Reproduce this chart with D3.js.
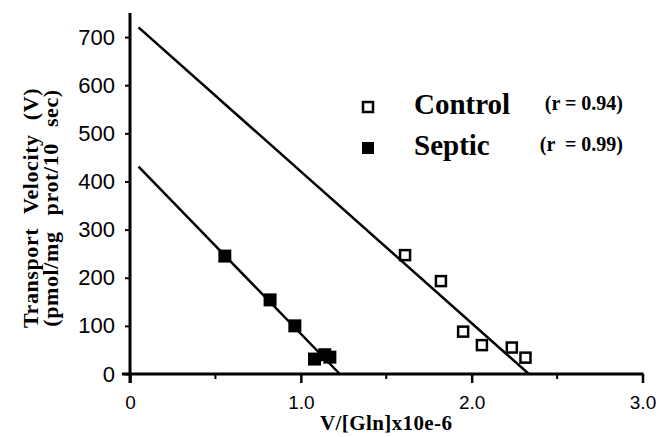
<!DOCTYPE html>
<html>
<head>
<meta charset="utf-8">
<script src="https://cdn.jsdelivr.net/npm/d3@7"></script>
<style>
  body { margin: 0; background: #fff; }
  svg { display: block; }
</style>
</head>
<body>
<div id="chart"></div>
<script>
// Eadie-Hofstee style plot: control vs septic glutamine transport

// tick labels
const xTicks = [0, 1, 2, 3];
const xTickLabels = ['0', '1.0', '2.0', '3.0'];
const xMinorTicks = [0.5, 1.5, 2.5];
const yTicks = [0, 100, 200, 300, 400, 500, 600, 700];

// Control (open squares): V/[Gln] x10e-6, V
const controlX = [1.61, 1.82, 1.95, 2.06, 2.235, 2.315];
const controlY = [247, 193, 88, 60, 55, 34];

// Septic (filled squares)
const septicX = [0.555, 0.82, 0.965, 1.08, 1.14, 1.17];
const septicY = [245, 154, 100, 31, 40, 35];

// regression lines, drawn from start to x-intercept
const controlFitX = [0.05, 2.335];
const controlFitY = [720, 0];
const septicFitX = [0.05, 1.228];
const septicFitY = [431, 0];

const seriesNames = ['Control', 'Septic'];
const seriesR = ['(r = 0.94)', '(r  = 0.99)'];

const W = 663, H = 437;
const svg = d3.select('#chart').append('svg')
    .attr('width', W)
    .attr('height', H);

const x = d3.scaleLinear().domain([0, 3]).range([130, 642.5]);
const y = d3.scaleLinear().domain([0, 750]).range([374, 13]);

const serif = '"Liberation Serif", "Times New Roman", serif';
const sans = '"Liberation Sans", Arial, sans-serif';

// y axis
const yAxis = svg.append('g')
    .attr('transform', `translate(${x(0)},0)`)
    .call(d3.axisLeft(y).tickValues(yTicks).tickSize(5).tickSizeOuter(0).tickPadding(10));
yAxis.select('.domain').remove();
yAxis.selectAll('line').attr('stroke', '#000').attr('stroke-width', 2);
yAxis.selectAll('text')
    .attr('font-family', sans)
    .attr('font-size', '22px')
    .attr('fill', '#000');

svg.append('line')
    .attr('x1', x(0)).attr('x2', x(0))
    .attr('y1', y(750)).attr('y2', y(0) + 9)
    .attr('stroke', '#000').attr('stroke-width', 3);

// x axis
const xAxis = svg.append('g')
    .attr('transform', `translate(0,${y(0)})`)
    .call(d3.axisBottom(x).tickValues(xTicks).tickSize(9).tickSizeOuter(0).tickPadding(13)
        .tickFormat((d, i) => xTickLabels[i]));
xAxis.select('.domain').remove();
xAxis.selectAll('line').attr('stroke', '#000').attr('stroke-width', 2.5);
xAxis.selectAll('text')
    .attr('font-family', sans)
    .attr('font-size', '19px')
    .attr('fill', '#000');

svg.append('g')
    .attr('transform', `translate(0,${y(0)})`)
    .selectAll('line')
    .data(xMinorTicks)
    .enter()
    .append('line')
    .attr('x1', d => x(d)).attr('x2', d => x(d))
    .attr('y1', 0).attr('y2', 5)
    .attr('stroke', '#000').attr('stroke-width', 2);

svg.append('line')
    .attr('x1', x(0) - 8).attr('x2', x(3) + 1)
    .attr('y1', y(0)).attr('y2', y(0))
    .attr('stroke', '#000').attr('stroke-width', 3);

// axis titles
const yTitle = svg.append('text')
    .attr('transform', `translate(38,${y(0) - 166}) rotate(-90)`)
    .attr('text-anchor', 'middle')
    .attr('font-family', serif)
    .attr('font-weight', 'bold')
    .attr('font-size', '22px')
    .attr('letter-spacing', '0.6px')
    .attr('fill', '#000');
yTitle.append('tspan').attr('x', 0).attr('y', 0)
    .attr('word-spacing', '8px')
    .text('Transport Velocity (V)');
yTitle.append('tspan').attr('x', 0).attr('y', 20)
    .attr('word-spacing', '10px')
    .text('(pmol/mg prot/10 sec)');

svg.append('text')
    .attr('x', 320)
    .attr('y', 430)
    .attr('font-family', serif)
    .attr('font-weight', 'bold')
    .attr('font-size', '21px')
    .attr('letter-spacing', '0.4px')
    .attr('fill', '#000')
    .text('V/[Gln]x10e-6');

// fit lines
const line = d3.line().x(d => x(d[0])).y(d => y(d[1]));
[[controlFitX, controlFitY], [septicFitX, septicFitY]].forEach(([fx, fy]) => {
    svg.append('path')
        .datum(d3.zip(fx, fy))
        .attr('d', line)
        .attr('fill', 'none')
        .attr('stroke', '#000')
        .attr('stroke-width', 2.5);
});

// points
svg.append('g').selectAll('rect')
    .data(d3.zip(controlX, controlY))
    .enter()
    .append('rect')
    .attr('x', d => x(d[0]) - 5)
    .attr('y', d => y(d[1]) - 5)
    .attr('width', 10).attr('height', 10)
    .attr('fill', '#fff')
    .attr('stroke', '#000')
    .attr('stroke-width', 2.5);

svg.append('g').selectAll('rect')
    .data(d3.zip(septicX, septicY))
    .enter()
    .append('rect')
    .attr('x', d => x(d[0]) - 6.5)
    .attr('y', d => y(d[1]) - 6.5)
    .attr('width', 13).attr('height', 13)
    .attr('fill', '#000');

// legend
const legendY = [107, 148];
const legend = svg.append('g');
legend.append('rect')
    .attr('x', 363).attr('y', legendY[0] - 5)
    .attr('width', 10).attr('height', 10)
    .attr('fill', '#fff').attr('stroke', '#000').attr('stroke-width', 2.5);
legend.append('rect')
    .attr('x', 362).attr('y', legendY[1] - 6)
    .attr('width', 12).attr('height', 12)
    .attr('fill', '#000');

legend.selectAll('.name')
    .data(seriesNames)
    .enter()
    .append('text')
    .attr('class', 'name')
    .attr('x', 414)
    .attr('y', (d, i) => legendY[i] + 7)
    .attr('font-family', serif)
    .attr('font-weight', 'bold')
    .attr('font-size', '29px')
    .attr('fill', '#000')
    .text(d => d);

legend.selectAll('.rval')
    .data(seriesR)
    .enter()
    .append('text')
    .attr('class', 'rval')
    .attr('x', 623)
    .attr('y', (d, i) => legendY[i] + 3)
    .attr('text-anchor', 'end')
    .attr('font-family', serif)
    .attr('font-weight', 'bold')
    .attr('font-size', '20px')
    .attr('fill', '#000')
    .style('white-space', 'pre')
    .text(d => d);
</script>
</body>
</html>
